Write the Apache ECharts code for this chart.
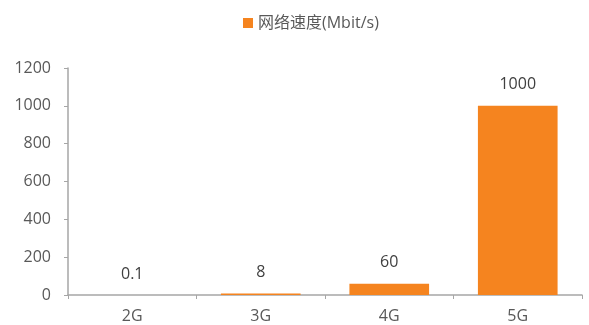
<!DOCTYPE html>
<html>
<head>
<meta charset="utf-8">
<script src="https://cdn.jsdelivr.net/npm/echarts@6/dist/echarts.min.js"></script>
<style>
  html, body { margin: 0; padding: 0; background: #fff; }
  #chart { width: 589px; height: 325px; }
</style>
</head>
<body>
<div id="chart"></div>
<script>
var categories = ['2G', '3G', '4G', '5G'];
var speeds = [0.1, 8, 60, 1000];
var seriesName = '网络速度(Mbit/s)';

var myChart = echarts.init(document.getElementById('chart'));
var textFont = '"Open Sans", "Noto Sans CJK SC", sans-serif';

var option = {
    animation: false,
    textStyle: { fontFamily: textFont },
    legend: {
        top: 10,
        left: 238,
        itemWidth: 10,
        itemHeight: 10,
        itemGap: 6,
        icon: 'rect',
        textStyle: { color: '#595959', fontSize: 16, fontFamily: textFont },
        data: [seriesName]
    },
    grid: { left: 68, right: 7, top: 68, bottom: 30 },
    xAxis: {
        type: 'category',
        data: categories,
        axisLine: { lineStyle: { color: '#A6A6A6', width: 1.5 } },
        axisTick: { show: true, alignWithLabel: false, length: 4, lineStyle: { color: '#A6A6A6' } },
        axisLabel: { color: '#595959', fontSize: 16, margin: 13 }
    },
    yAxis: {
        type: 'value',
        min: 0,
        max: 1200,
        interval: 200,
        axisLine: { show: true, lineStyle: { color: '#A6A6A6', width: 1.5 } },
        axisTick: { show: true, length: 4, lineStyle: { color: '#A6A6A6' } },
        axisLabel: {
            color: '#595959',
            fontSize: 16,
            margin: 17,
            formatter: function (v) { return String(v); }
        },
        splitLine: { show: false }
    },
    series: [
        {
            name: seriesName,
            type: 'bar',
            data: speeds,
            barCategoryGap: '38%',
            itemStyle: { color: '#F5841F' },
            label: {
                show: true,
                position: 'top',
                distance: 13,
                color: '#404040',
                fontSize: 16
            }
        }
    ]
};
myChart.setOption(option);
</script>
</body>
</html>
